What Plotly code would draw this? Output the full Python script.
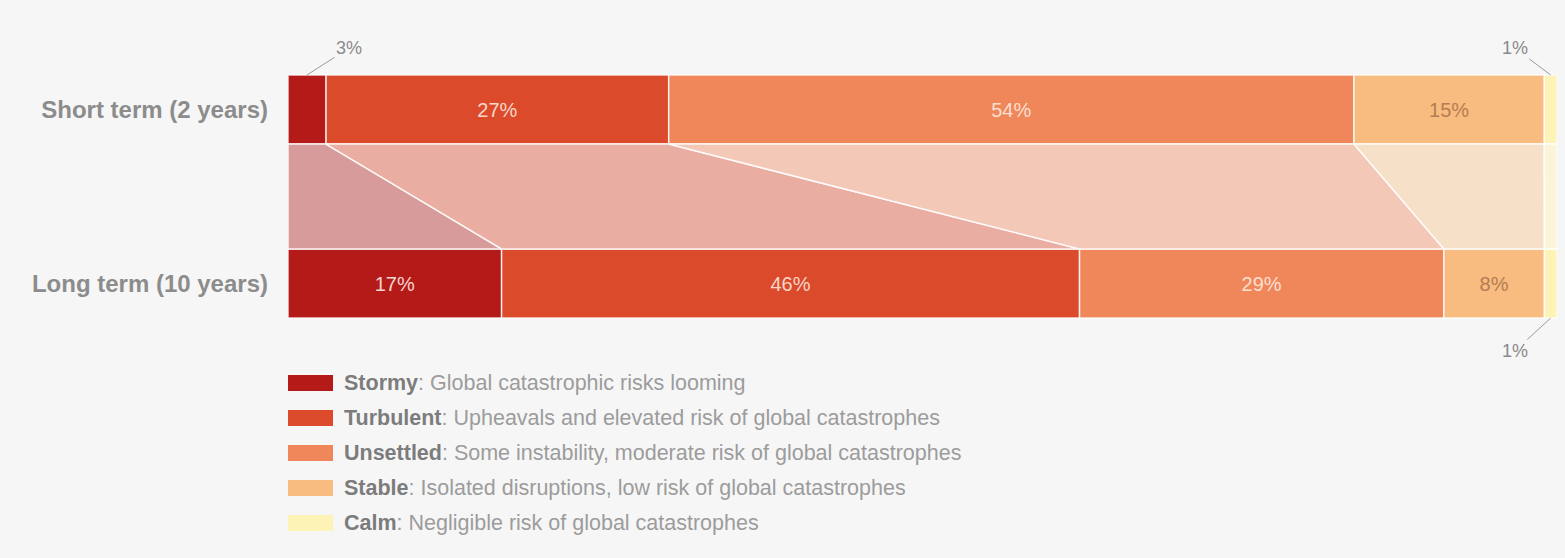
import plotly.graph_objects as go

# ---- data ----
rows = ["Short term (2 years)", "Long term (10 years)"]
categories = ["Stormy", "Turbulent", "Unsettled", "Stable", "Calm"]
descriptions = [
    "Global catastrophic risks looming",
    "Upheavals and elevated risk of global catastrophes",
    "Some instability, moderate risk of global catastrophes",
    "Isolated disruptions, low risk of global catastrophes",
    "Negligible risk of global catastrophes",
]
short_term = [3, 27, 54, 15, 1]
long_term = [17, 46, 29, 8, 1]

# ---- styles ----
bar_colors = ["#b31a18", "#db4a2a", "#f0875a", "#f8bb80", "#fdf3b6"]
band_colors = ["#d89b9b", "#e9ada1", "#f4c8b6", "#f7e0c8", "#fbf4d8"]
text_colors = ["#f5d6cf", "#f8d6c8", "#fbdfd0", "#b47d52", "#b47d52"]
BG = "#f6f6f6"
FONT = "Liberation Sans, Arial, sans-serif"
W, H = 1565, 558
L, R = 288, 8
BAR_W = 0.397
PX_PER_UNIT = 174.0
Y0_PX = 109.5

def norm(vals):
    tot = float(sum(vals))
    return [v / tot * 100 for v in vals]

def cum(vals):
    out, s = [], 0.0
    for v in vals:
        out.append(s)
        s += v
    return out

sn, ln = norm(short_term), norm(long_term)
sb, lb = cum(sn), cum(ln)
half = BAR_W / 2

fig = go.Figure()

# connector bands
for i, c in enumerate(categories):
    xs = [sb[i], sb[i] + sn[i], lb[i] + ln[i], lb[i], sb[i]]
    ys = [half, half, 1 - half, 1 - half, half]
    fig.add_trace(go.Scatter(
        x=xs, y=ys, fill="toself", mode="lines",
        fillcolor=band_colors[i], line=dict(color="rgba(255,255,255,0.85)", width=1.5),
        hoverinfo="skip", showlegend=False,
    ))

# bars
for i, c in enumerate(categories):
    vals = [short_term[i], long_term[i]]
    texts = [f"{v}%" if v >= 5 else "" for v in vals]
    fig.add_trace(go.Bar(
        orientation="h", y=[0, 1], x=[sn[i], ln[i]], base=[sb[i], lb[i]],
        width=BAR_W, marker=dict(color=bar_colors[i], line=dict(color="rgba(255,255,255,0.8)", width=1.5)),
        text=texts, textposition="inside", insidetextanchor="middle",
        textfont=dict(family=FONT, size=20, color=text_colors[i]),
        name=c, showlegend=False, hoverinfo="skip",
    ))

# outside labels for small segments
ann = []
small_specs = [
    (0, sb, sn, short_term, -half, 42, -27),
    (4, sb, sn, short_term, -half, -36, -27),
    (4, lb, ln, long_term, 1 + half, -36, 33),
]
for i, base, share, raw, yedge, ax, ay in small_specs:
    ann.append(dict(
        x=base[i] + share[i] / 2, y=yedge, xref="x", yref="y",
        text=f"{raw[i]}%", showarrow=True, arrowhead=0, arrowwidth=1,
        arrowcolor="#9a9a9a", ax=ax, ay=ay, standoff=0,
        font=dict(family=FONT, size=18, color="#8a8a8a"),
    ))

# custom legend
shapes = []
leg_top_px = 383
leg_step = 35
plot_w = W - L - R
for i, c in enumerate(categories):
    cy = leg_top_px + i * leg_step
    shapes.append(dict(
        type="rect", xref="paper", yref="paper",
        x0=0, x1=45 / plot_w, y0=1 - (cy + 8) / H, y1=1 - (cy - 8) / H,
        fillcolor=bar_colors[i], line=dict(width=0),
    ))
    ann.append(dict(
        x=54 / plot_w, y=1 - cy / H, xref="paper", yref="paper",
        xanchor="left", yanchor="middle", showarrow=False,
        text=f"<b><span style='color:#7c7c7c'>{c}</span></b>: {descriptions[i]}",
        font=dict(family=FONT, size=21.5, color="#9c9c9c"),
    ))

fig.update_layout(
    width=W, height=H, margin=dict(l=L, r=R, t=0, b=0),
    paper_bgcolor=BG, plot_bgcolor=BG, barmode="overlay",
    xaxis=dict(range=[0, 100], visible=False, fixedrange=True),
    yaxis=dict(
        range=[(H - Y0_PX) / PX_PER_UNIT, -Y0_PX / PX_PER_UNIT],
        tickvals=[0, 1], ticktext=[f"<b>{r}</b>" for r in rows],
        tickfont=dict(family=FONT, size=24, color="#8c8c8c"),
        showgrid=False, zeroline=False, showline=False, ticks="",
        ticklabelstandoff=19,
    ),
    annotations=ann, shapes=shapes,
)

fig.write_html("out.html")
